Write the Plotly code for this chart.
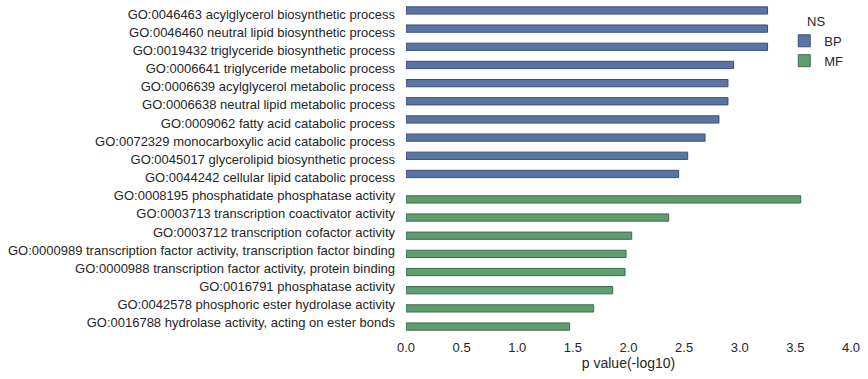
import plotly.graph_objects as go

bp_terms = [
    "GO:0046463 acylglycerol biosynthetic process",
    "GO:0046460 neutral lipid biosynthetic process",
    "GO:0019432 triglyceride biosynthetic process",
    "GO:0006641 triglyceride metabolic process",
    "GO:0006639 acylglycerol metabolic process",
    "GO:0006638 neutral lipid metabolic process",
    "GO:0009062 fatty acid catabolic process",
    "GO:0072329 monocarboxylic acid catabolic process",
    "GO:0045017 glycerolipid biosynthetic process",
    "GO:0044242 cellular lipid catabolic process",
]
bp_values = [3.25, 3.25, 3.25, 2.945, 2.894, 2.894, 2.813, 2.688, 2.532, 2.451]

mf_terms = [
    "GO:0008195 phosphatidate phosphatase activity",
    "GO:0003713 transcription coactivator activity",
    "GO:0003712 transcription cofactor activity",
    "GO:0000989 transcription factor activity, transcription factor binding",
    "GO:0000988 transcription factor activity, protein binding",
    "GO:0016791 phosphatase activity",
    "GO:0042578 phosphoric ester hydrolase activity",
    "GO:0016788 hydrolase activity, acting on ester bonds",
]
mf_values = [3.548, 2.361, 2.029, 1.978, 1.969, 1.858, 1.687, 1.471]

categories = bp_terms + mf_terms

fig = go.Figure()
fig.add_trace(go.Bar(
    y=categories, x=bp_values + [None] * len(mf_terms), orientation="h", name="BP",
    marker=dict(color="#5875a4", line=dict(color="#3b4e70", width=1)),
))
fig.add_trace(go.Bar(
    y=categories, x=[None] * len(bp_terms) + mf_values, orientation="h", name="MF",
    marker=dict(color="#5f9e6e", line=dict(color="#3f6b4a", width=1)),
))

font = "Liberation Sans, Arial, sans-serif"
fig.update_layout(
    width=868, height=379,
    margin=dict(l=406, r=17, t=5, b=47),
    paper_bgcolor="white", plot_bgcolor="white",
    barmode="group", bargap=0.2, bargroupgap=0,
    font=dict(family=font, size=13, color="#262626"),
    xaxis=dict(range=[0, 4], tickvals=[0, 0.5, 1, 1.5, 2, 2.5, 3, 3.5, 4],
               ticktext=["0.0", "0.5", "1.0", "1.5", "2.0", "2.5", "3.0", "3.5", "4.0"],
               showgrid=False, zeroline=False, showline=False, ticks="",
               ticklabelstandoff=6,
               title=dict(text="p value(-log10)", font=dict(size=14), standoff=4)),
    yaxis=dict(categoryorder="array", categoryarray=categories, autorange="reversed",
               showgrid=False, zeroline=False, showline=False, ticks="",
               ticklabelstandoff=10),
    legend=dict(title=dict(text="NS", side="top center", font=dict(size=13)),
                x=0.85, y=0.988, xanchor="left", yanchor="top", bgcolor="rgba(0,0,0,0)",
                font=dict(size=13), tracegroupgap=0),
)
fig.write_html("out.html", config={"displayModeBar": False},
               post_script="document.body.style.margin='0';")
